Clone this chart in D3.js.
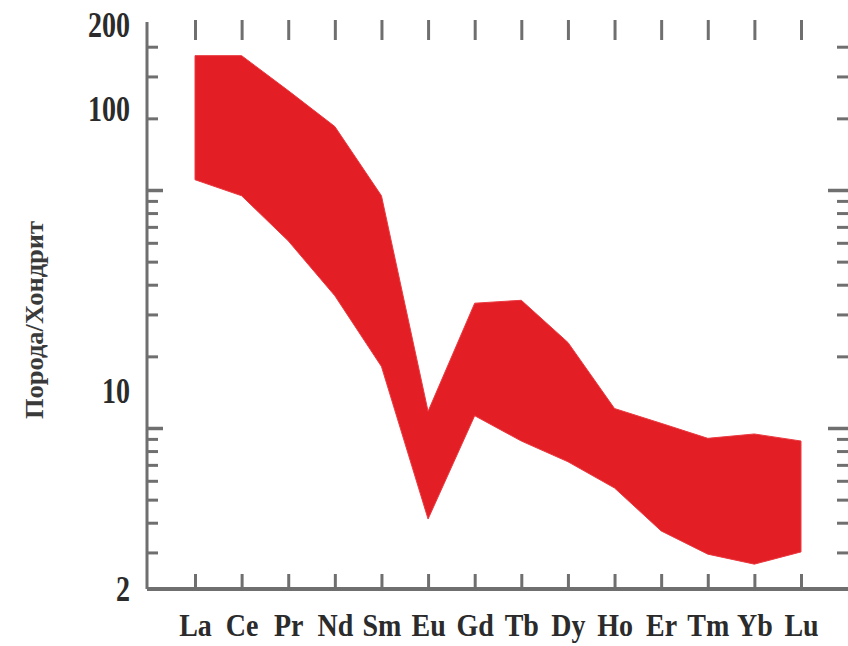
<!DOCTYPE html>
<html>
<head>
<meta charset="utf-8">
<script src="https://cdn.jsdelivr.net/npm/d3@7"></script>
<style>
  html, body { margin: 0; padding: 0; background: #fff; }
  svg { display: block; }
</style>
</head>
<body>
<svg id="chart" width="848" height="646"></svg>
<script>
// ---- data ----
const elements = ["La","Ce","Pr","Nd","Sm","Eu","Gd","Tb","Dy","Ho","Er","Tm","Yb","Lu"];
const upperValues = [157, 157, 118, 88, 50, 8.6, 20.8, 21.3, 15.1, 8.8, 7.8, 6.9, 7.15, 6.75];
const lowerValues = [57, 50, 34.6, 22.1, 12.4, 3.57, 8.3, 6.75, 5.7, 4.6, 3.24, 2.68, 2.47, 2.73];
const yLabelTicks = [2, 10, 100, 200];
const minorTicks = [3, 4, 5, 6, 7, 8, 9, 20, 30, 40, 50, 60, 70, 80, 90, 200, 300, 400];
const majorTicks = [10, 100];
const yTitle = "Порода/Хондрит";

// ---- layout ----
const svg = d3.select("#chart");
const axisX = 147, baseY = 589, topY = 22, rightX = 848;
const gray = "#6f6f6f", dark = "#2b2b2b";
const font = "'Liberation Serif', 'Times New Roman', serif";

const x = d3.scalePoint().domain(elements).range([195, 801]);
const y = d3.scaleLog().domain([2, 200]).range([590, 26]);
// scale used for the frame tick marks (offset in the original figure)
const yTick = d3.scaleLog().domain([10, 100]).range([428, 190]);

const rows = elements.map((e, i) => ({ e, hi: upperValues[i], lo: lowerValues[i] }));

// ---- band ----
const area = d3.area()
  .x(d => x(d.e))
  .y0(d => y(d.lo))
  .y1(d => y(d.hi))
  .curve(d3.curveLinear);
svg.append("path")
  .datum(rows)
  .attr("d", area)
  .attr("fill", "#e31e25")
  .attr("stroke", "#ea3a40")
  .attr("stroke-width", 1);

function styleTicks(g, w) {
  g.select(".domain").remove();
  g.selectAll(".tick line").attr("stroke", gray).attr("stroke-width", w);
  g.selectAll(".tick text").remove();
}

// ---- left axis line + ticks ----
svg.append("line").attr("x1", axisX).attr("x2", axisX).attr("y1", topY).attr("y2", baseY)
  .attr("stroke", gray).attr("stroke-width", 3);
svg.append("g").attr("transform", `translate(${axisX},0)`)
  .call(d3.axisRight(yTick).tickValues(minorTicks).tickSize(11))
  .call(g => styleTicks(g, 3));
svg.append("g").attr("transform", `translate(${axisX},0)`)
  .call(d3.axisRight(yTick).tickValues(majorTicks).tickSize(16))
  .call(g => styleTicks(g, 3.5));

// ---- right ticks ----
svg.append("g").attr("transform", `translate(${rightX},0)`)
  .call(d3.axisLeft(yTick).tickValues(minorTicks).tickSize(11))
  .call(g => styleTicks(g, 3));
svg.append("g").attr("transform", `translate(${rightX},0)`)
  .call(d3.axisLeft(yTick).tickValues(majorTicks).tickSize(20))
  .call(g => styleTicks(g, 3.5));

// ---- left labels ----
svg.append("g").attr("transform", `translate(${axisX},0)`)
  .call(d3.axisLeft(y).tickValues(yLabelTicks).tickFormat(d3.format("d")).tickSize(0).tickPadding(17))
  .call(g => {
    g.select(".domain").remove();
    g.selectAll(".tick text")
      .attr("font-family", font).attr("font-weight", "bold").attr("font-size", 28)
      .attr("fill", dark)
      .attr("dy", "0.28em")
      .attr("transform", "scale(1,1.28)")
      .attr("y", 0);
  });

// ---- bottom axis ----
svg.append("line").attr("x1", axisX).attr("x2", rightX).attr("y1", baseY).attr("y2", baseY)
  .attr("stroke", gray).attr("stroke-width", 4);
svg.append("g").attr("transform", `translate(0,${baseY})`)
  .call(d3.axisTop(x).tickSize(15))
  .call(g => styleTicks(g, 3));
svg.append("g").attr("transform", `translate(0,${baseY})`)
  .call(d3.axisBottom(x).tickSize(0).tickPadding(0))
  .call(g => {
    g.select(".domain").remove();
    g.selectAll(".tick text")
      .attr("font-family", font).attr("font-weight", "bold").attr("font-size", 28)
      .attr("fill", dark)
      .attr("dy", 0)
      .attr("y", 41)
      .attr("transform", "scale(1,1.15)");
  });

// ---- top ticks ----
svg.append("g").attr("transform", `translate(0,20)`)
  .call(d3.axisBottom(x).tickSize(20))
  .call(g => styleTicks(g, 3));

// ---- y title ----
svg.append("text")
  .attr("transform", "translate(43,320) rotate(-90)")
  .attr("text-anchor", "middle")
  .attr("font-family", font).attr("font-weight", "bold").attr("font-size", 26)
  .attr("fill", "#3a3a3a")
  .attr("textLength", 198).attr("lengthAdjust", "spacingAndGlyphs")
  .text(yTitle);
</script>
</body>
</html>
